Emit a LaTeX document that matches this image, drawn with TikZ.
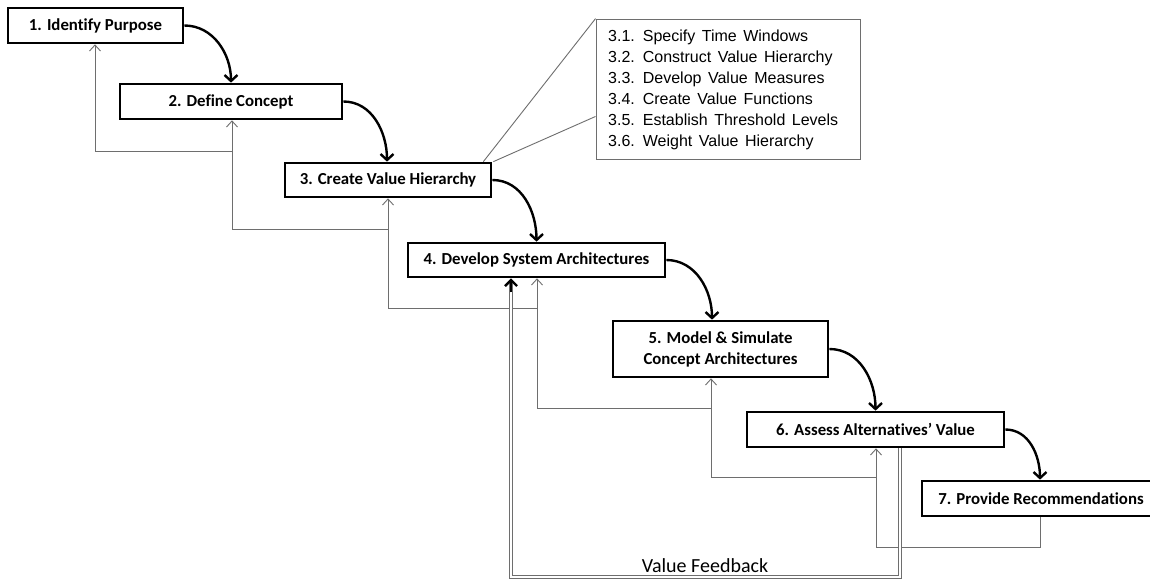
\documentclass[tikz,border=0pt]{standalone}
\usepackage{fontspec}
\setmainfont{Carlito}[Ligatures={NoCommon}]
\newfontfamily\arialf{Liberation Sans}
\usetikzlibrary{arrows.meta}
\definecolor{fbgray}{HTML}{6E6E6E}
\newcommand\widewordspace{\spaceskip=6.5pt plus 1pt\relax}
\begin{document}
\begin{tikzpicture}[x=1pt,y=-1pt,
  stepbox/.style={draw=black, line width=2.7pt, fill=white, inner sep=0pt, align=center,
    font=\fontsize{16.8}{21}\selectfont\bfseries},
  flow/.style={line width=2.4pt, -{Straight Barb[length=6pt,width=13pt,line width=2.4pt]}},
  fb/.style={draw=fbgray, line width=0.9pt},
  fbarrow/.style={fb, -{Straight Barb[length=6pt,width=11pt,line width=0.9pt]}},
  callout/.style={draw=fbgray, line width=0.9pt, fill=white}]
\useasboundingbox[fill=white] (0,0) rectangle (1150,580);

% boxes
\node[stepbox, minimum width=175pt, minimum height=35pt] (B1) at (95.5,25.5) {1. Identify Purpose};
\node[stepbox, minimum width=222pt, minimum height=35pt] (B2) at (231,101.5) {2. Define Concept};
\node[stepbox, minimum width=206pt, minimum height=34pt] (B3) at (388,180) {3. Create Value Hierarchy};
\node[stepbox, minimum width=257pt, minimum height=34pt] (B4) at (536.5,260) {4. Develop System Architectures};
\node[stepbox, minimum width=215pt, minimum height=56pt] (B5) at (720.5,349) {5. Model \& Simulate\\Concept Architectures};
\node[stepbox, minimum width=257pt, minimum height=35pt] (B6) at (875.5,429.5) {6. Assess Alternatives’ Value};
\node[stepbox, minimum width=238pt, minimum height=35pt] (B7) at (1041,498.5) {7. Provide Recommendations};

% callout
\node[callout, minimum width=264pt, minimum height=140pt, inner sep=0pt] (C) at (728,89) {};
\node[anchor=north west, inner sep=0pt, align=left,
  font=\arialf\fontsize{16}{21}\selectfont\widewordspace] (CT) at (608,30)
  {3.1. Specify Time Windows\\3.2. Construct Value Hierarchy\\3.3. Develop Value Measures\\3.4. Create Value Functions\\3.5. Establish Threshold Levels\\3.6. Weight Value Hierarchy};
\draw[fb] ([xshift=-9pt]B3.north east) -- (C.north west);
\draw[fb] ([xshift=1pt]B3.north east) -- ([yshift=43pt]C.south west);

% forward flow arrows
\draw[flow] (B1.east) to[out=0,in=90] (B2.north);
\draw[flow] (B2.east) to[out=0,in=90] ([xshift=-1pt]B3.north);
\draw[flow] (B3.east) to[out=0,in=90] (B4.north);
\draw[flow] (B4.east) to[out=0,in=90] ([xshift=-8.5pt]B5.north);
\draw[flow] (B5.east) to[out=0,in=90] (B6.north);
\draw[flow] (B6.east) to[out=0,in=90] ([xshift=-1pt]B7.north);

% feedback paths
\coordinate (F7) at (1040,547);
\coordinate (F6) at (876,547);
\draw[fbarrow] ([xshift=-1pt]B7.south) -- (F7) -- (F6) -- (F6 |- B6.south);
\coordinate (F5a) at (876,477);
\coordinate (F5) at (711,477);
\draw[fbarrow] (F5a) -- (F5) -- (F5 |- B5.south);
\coordinate (F4a) at (711,408);
\coordinate (F4) at (537,408);
\draw[fbarrow] (F4a) -- (F4) -- (F4 |- B4.south);
\coordinate (F3a) at (537,308);
\coordinate (F3) at (388,308);
\draw[fbarrow] (F3a) -- (F3) -- (F3 |- B3.south);
\coordinate (F2a) at (388,229);
\coordinate (F2) at (232,229);
\draw[fbarrow] (F2a) -- (F2) -- (F2 |- B2.south);
\coordinate (F1a) at (232,151);
\coordinate (F1) at (95,151);
\draw[fbarrow] (F1a) -- (F1) -- (F1 |- B1.south);

% value feedback (double line)
\coordinate (V1) at (900,577);
\coordinate (V2) at (511,577);
\draw[draw=fbgray, line width=1.1pt, double=white, double distance=1.8pt]
  (V1 |- B6.south) -- (V1) -- (V2) -- ([yshift=-3pt]V2 |- B4.south);
\draw[line width=2.4pt, -{Straight Barb[length=6pt,width=12pt,line width=2.4pt]}]
  ([yshift=-14pt]V2 |- B4.south) -- (V2 |- B4.south);
\node[anchor=base, inner sep=0pt, font=\fontsize{20}{24}\selectfont] (VF) at (705,572) {Value Feedback};
\end{tikzpicture}
\end{document}
